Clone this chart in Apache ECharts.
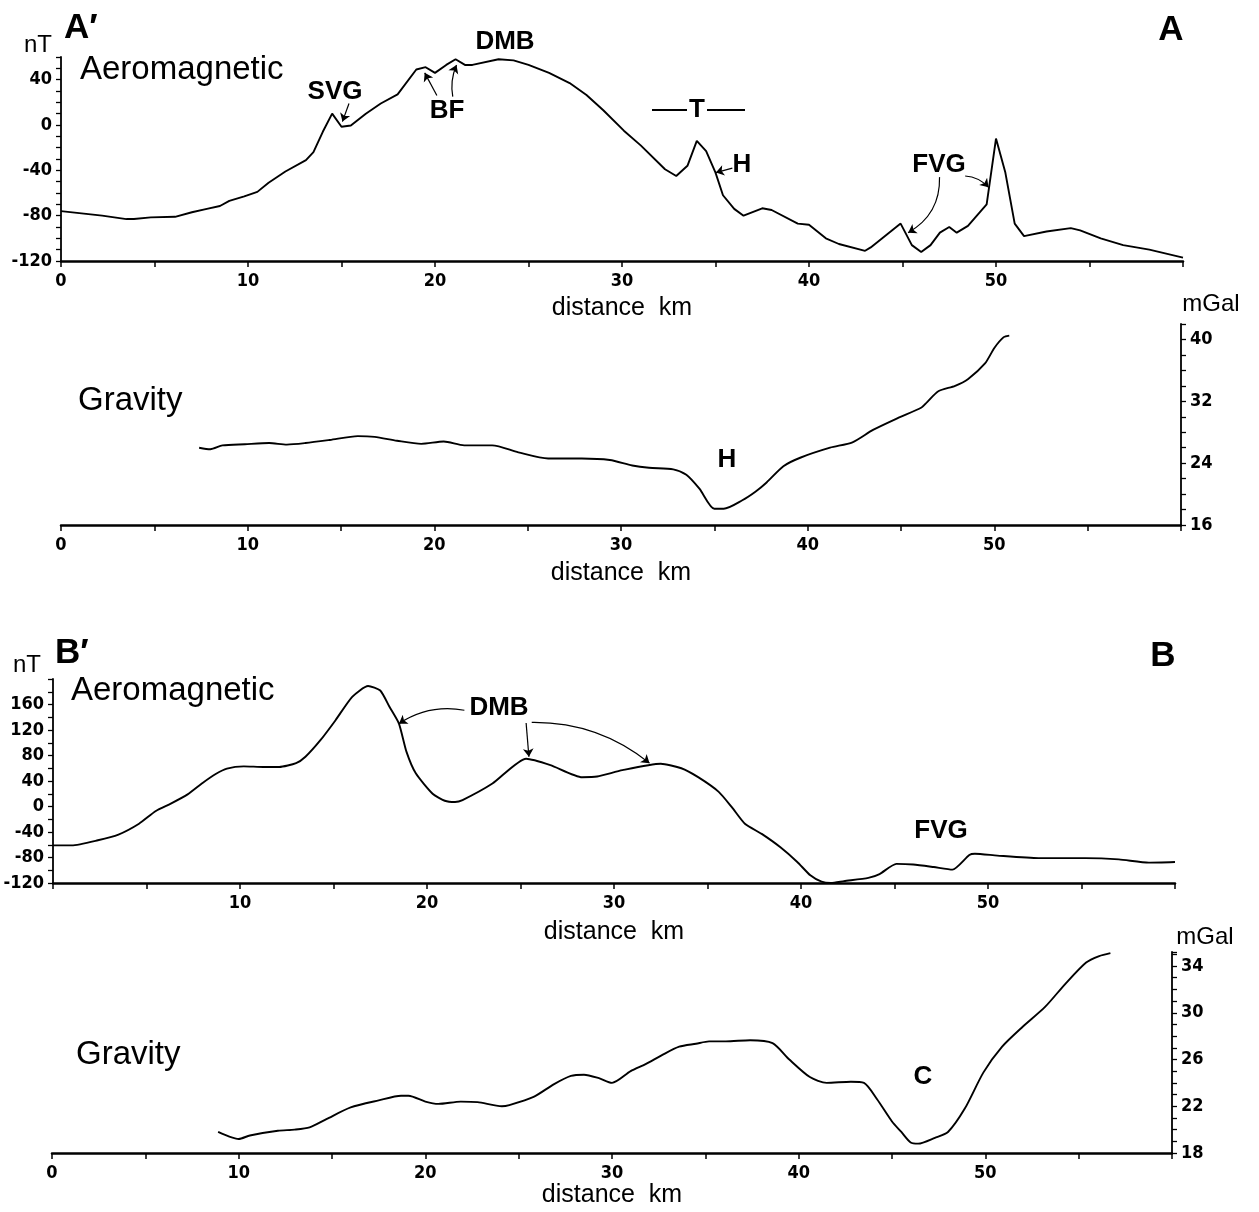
<!DOCTYPE html>
<html>
<head>
<meta charset="utf-8">
<script src="https://cdn.jsdelivr.net/npm/echarts@6/dist/echarts.min.js"></script>
<style>
  html, body { margin: 0; background: #fff; }
  #chart { width: 1259px; height: 1212px; }
</style>
</head>
<body>
<div id="chart"></div>
<script>
    // profile A'-A, aeromagnetic (km, nT)
    var magA = [
        [0,-76],[1.1,-78],[2.2,-80],[3.5,-83],[3.9,-83],[4.8,-81.5],[6.1,-81],[7,-77],[7.8,-74],
        [8.5,-71.5],[9,-67],[9.8,-63],[10.5,-59],[11.1,-51],[12,-41],[13.1,-31],[13.5,-24],[14,-6],
        [14.5,10],[15,-1.5],[15.5,-0.5],[16.3,10],[17.1,19],[18,27],[19,49],[19.5,51],[20,46],
        [20.6,53],[21.1,58],[21.6,53],[22,53],[23.4,58],[24.2,57],[25,53],[26.1,46],[27.2,37],
        [28.1,26.5],[29,13],[30.1,-5],[31,-18],[32.3,-39],[32.9,-45],[33.5,-36],[34,-14],[34.5,-23],
        [35,-42],[35.4,-62],[36,-74],[36.5,-80],[37.5,-73.5],[38,-75],[39.4,-87],[40,-88],[40.9,-100],
        [41.6,-105],[43,-111],[43.3,-108],[44.9,-87],[45.5,-106],[46,-112],[46.5,-106],[47,-95],
        [47.5,-90],[47.9,-95],[48.5,-89],[49.5,-70],[50,-12],[50.5,-42],[51,-87],[51.5,-98],
        [52.7,-94],[54,-91],[54.5,-93],[55.6,-100],[56.8,-106],[58.2,-110],[60,-117]
    ];

    // profile A'-A, gravity (km, mGal)
    var gravA = [
        [7.4,26.0],[8.0,25.8],[8.65,26.3],[9.85,26.45],[11.15,26.6],[12.1,26.4],[13.1,26.6],
        [14.4,27.0],[15.9,27.5],[16.8,27.4],[18,26.9],[19.3,26.5],[20.5,26.8],[21.6,26.3],
        [23.1,26.3],[24.5,25.4],[26.1,24.6],[27.9,24.6],[29.4,24.4],[30.6,23.7],[31.5,23.4],
        [32.8,23.2],[33.5,22.5],[34.2,20.7],[35,18.1],[35.5,18.1],[36.5,19.2],[37.2,20.3],
        [37.8,21.5],[38.7,23.6],[39.6,24.7],[41.2,26.0],[42.4,26.7],[43.5,28.3],[44.8,29.8],
        [46.1,31.2],[46.4,31.9],[47,33.3],[47.9,34.0],[48.6,34.9],[49.5,36.9],[50,38.9],
        [50.5,40.3],[50.8,40.5]
    ];

    // profile B'-B, aeromagnetic (km, nT)
    var magB = [
        [0,-61],[1.0,-61],[2.4,-53],[3.5,-44],[4.6,-27],[5.5,-7],[6.3,4.5],[7.2,19],[8.0,37],
        [8.7,51],[9.3,59.5],[10.2,63],[11.25,62],[12.1,62],[13,68],[13.5,78],[14.3,104],[15.1,135],
        [16,172],[16.85,189],[17.5,182],[18,156],[18.5,130],[18.9,86],[19.4,52],[20.3,20],
        [20.95,9],[21.5,7],[21.9,10],[23.5,36],[25.3,75],[26.6,65],[28.3,46],[29.1,47],[30.45,57],
        [32.5,67],[33.6,60],[34.5,46],[35.6,23],[36.3,-1],[37,-27],[37.9,-43],[38.9,-64],[39.8,-87],
        [40.5,-108],[41.1,-118],[41.6,-120],[42.3,-117],[43.6,-112],[44.2,-106],[45.1,-90],[46,-91],
        [47.1,-95],[48.1,-99],[49,-76],[49.3,-74],[50.5,-77],[52.7,-81],[55.2,-81],[57,-83],
        [58.6,-88],[60,-87]
    ];

    // profile B'-B, gravity (km, mGal)
    var gravB = [
        [8.9,19.8],[9.5,19.4],[10,19.2],[10.6,19.5],[12.1,19.9],[13,20.0],[13.8,20.2],[14.7,20.9],
        [16,21.9],[17.5,22.5],[18.7,22.9],[19.1,22.9],[20,22.4],[20.7,22.2],[21.9,22.4],[22.8,22.35],
        [24.1,22.0],[24.5,22.1],[25.8,22.8],[26.9,23.9],[27.8,24.6],[28.5,24.7],[29.3,24.4],[30,24.0],
        [31,25.0],[31.8,25.6],[32.7,26.4],[33.6,27.1],[34.5,27.35],[35.2,27.55],[36.1,27.55],
        [37.4,27.65],[38.6,27.4],[39.5,26.0],[40.6,24.5],[41.5,24.0],[42.8,24.1],[43.5,24.0],
        [44.2,22.6],[45,20.7],[45.5,19.8],[46,18.9],[46.4,18.8],[47.3,19.3],[48,19.8],[48.9,21.8],
        [49.9,24.9],[50.9,27.1],[52,28.8],[53.2,30.5],[54.3,32.5],[55.4,34.3],[56.1,34.85],[56.7,35.1]
    ];

    // arrows: [from, to, curveness]
    var arrowsA = [
        [[15.4, 19], [15.05, 3], 0],       // SVG
        [[20.1, 26], [19.45, 46], 0],      // BF
        [[20.95, 25], [21.15, 53], 0.15],  // BF
        [[35.9, -38], [35.02, -42], 0],    // H
        [[46.98, -46], [45.3, -95], 0.3],  // FVG
        [[48.35, -45], [49.6, -55], 0.2]   // FVG
    ];
    var arrowsB = [
        [[22.0, 151], [18.5, 130], -0.2],  // DMB
        [[25.3, 131], [25.45, 78], 0],     // DMB
        [[25.6, 132], [31.9, 68], 0.18]    // DMB
    ];

    var NUM_FONT = "'Liberation Sans Narrow', 'DejaVu Sans Condensed', sans-serif";
    var TXT_FONT = "'Liberation Sans', Arial, sans-serif";

    var chart = echarts.init(document.getElementById('chart'));

    // flechas de anotacion, en coordenadas de datos
    function flechas(lista, gi) {
        return {
            type: 'lines', coordinateSystem: 'cartesian2d', xAxisIndex: gi, yAxisIndex: gi,
            silent: true, animation: false, z: 3,
            symbol: ['none', 'arrow'], symbolSize: 8,
            lineStyle: { color: '#000', width: 1.2, opacity: 1 },
            data: lista.map(function (a) {
                return { coords: [a[0], a[1]], lineStyle: { curveness: a[2] } };
            })
        };
    }

    function ejeX(gi, gap, sinCero) {
        return {
            type: 'value', gridIndex: gi, min: 0, max: 60, interval: 10,
            name: 'distance  km', nameLocation: 'middle', nameGap: gap,
            nameTextStyle: { fontFamily: TXT_FONT, fontSize: 25, color: '#000' },
            axisLine: { onZero: false, lineStyle: { color: '#000', width: 2.5 } },
            axisTick: { length: 6, lineStyle: { color: '#000', width: 1.5 } },
            minorTick: { show: true, splitNumber: 2, length: 6, lineStyle: { color: '#000', width: 1.5 } },
            splitLine: { show: false },
            axisLabel: {
                margin: 11, fontFamily: NUM_FONT, fontWeight: 'bold', fontSize: 18, color: '#000',
                formatter: function (v) {
                    if (v === 60 || (sinCero && v === 0)) { return ''; }
                    return v;
                }
            }
        };
    }

    function ejeY(gi, pos, min, max, interval, minor, fmt) {
        return {
            type: 'value', gridIndex: gi, position: pos, min: min, max: max, interval: interval,
            axisLine: { show: true, onZero: false, lineStyle: { color: '#000', width: 1.8 } },
            axisTick: { show: true, length: 5, lineStyle: { color: '#000', width: 1.3 } },
            minorTick: { show: true, splitNumber: minor, length: 5, lineStyle: { color: '#000', width: 1.3 } },
            splitLine: { show: false },
            axisLabel: {
                margin: 9, showMaxLabel: false, fontFamily: NUM_FONT, fontWeight: 'bold',
                fontSize: 18, color: '#000', formatter: fmt
            }
        };
    }

    function txt(s, x, y, size, bold, align) {
        return {
            type: 'text', x: x, y: y, silent: true,
            style: {
                text: s, fill: '#000', align: align || 'center', verticalAlign: 'middle',
                font: (bold ? 'bold ' : '') + size + 'px ' + TXT_FONT
            }
        };
    }

    function linea(x1, x2, y) {
        return { type: 'line', silent: true, shape: { x1: x1, y1: y, x2: x2, y2: y },
                 style: { stroke: '#000', lineWidth: 2 } };
    }

    function serie(nombre, datos, gi, suave) {
        return {
            name: nombre, type: 'line', xAxisIndex: gi, yAxisIndex: gi,
            data: datos, showSymbol: false, smooth: suave, animation: false,
            lineStyle: { color: '#000', width: 1.9 }
        };
    }

    chart.setOption({
        backgroundColor: '#fff',
        grid: [
            { left: 61, top: 57, width: 1122, height: 204 },
            { left: 61, top: 324, width: 1120, height: 201 },
            { left: 53, top: 679, width: 1122, height: 204 },
            { left: 52, top: 952, width: 1120, height: 201 }
        ],
        xAxis: [
            ejeX(0, 35, false),
            ejeX(1, 36, false),
            ejeX(2, 37, true),
            ejeX(3, 29, false)
        ],
        yAxis: [
            ejeY(0, 'left', -120, 60, 40, 4),
            ejeY(1, 'right', 16, 42, 8, 4),
            ejeY(2, 'left', -120, 200, 40, 2),
            ejeY(3, 'right', 18, 35.2, 2, 2, function (v) {
                return (v - 18) % 4 === 0 ? v : '';
            })
        ],
        series: [
            serie('Aeromagnetic A', magA, 0, false),
            serie('Gravity A', gravA, 1, 0.25),
            serie('Aeromagnetic B', magB, 2, 0.2),
            serie('Gravity B', gravB, 3, 0.25),
            flechas(arrowsA, 0),
            flechas(arrowsB, 2)
        ],
        graphic: [
            // profile A
            txt('A\u2032', 64, 28, 35, true, 'left'),
            txt('A', 1171, 30, 35, true),
            txt('nT', 38, 45, 24, false),
            txt('Aeromagnetic', 80, 70, 33, false, 'left'),
            txt('SVG', 335, 92, 26, true),
            txt('BF', 447, 111, 26, true),
            txt('DMB', 505, 42, 26, true),
            linea(652, 687, 110), txt('T', 697, 110, 26, true), linea(707, 745, 110),
            txt('H', 742, 165, 26, true),
            txt('FVG', 939, 165, 26, true),
            txt('mGal', 1211, 304, 24, false),
            txt('Gravity', 78, 401, 33, false, 'left'),
            txt('H', 727, 460, 26, true),
            // profile B
            txt('B\u2032', 55, 653, 35, true, 'left'),
            txt('B', 1163, 656, 35, true),
            txt('nT', 27, 665, 24, false),
            txt('Aeromagnetic', 71, 691, 33, false, 'left'),
            txt('DMB', 499, 708, 26, true),
            txt('FVG', 941, 831, 26, true),
            txt('mGal', 1205, 937, 24, false),
            txt('Gravity', 76, 1055, 33, false, 'left'),
            txt('C', 923, 1077, 26, true)
        ]
    });
</script>
</body>
</html>
